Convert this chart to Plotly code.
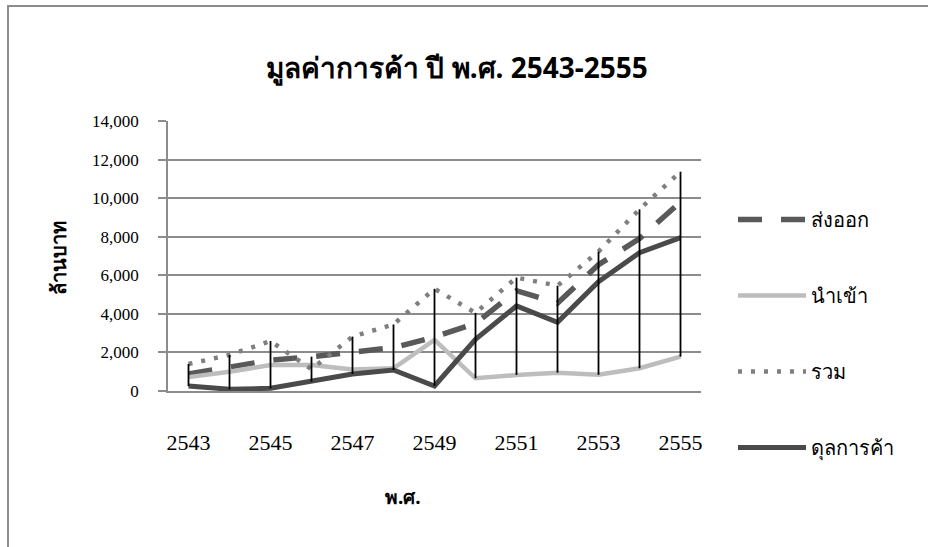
import plotly.graph_objects as go

years = [2543, 2544, 2545, 2546, 2547, 2548, 2549, 2550, 2551, 2552, 2553, 2554, 2555]
export_vals = [880, 1230, 1600, 1780, 1990, 2250, 2800, 3500, 5200, 4550, 6550, 7900, 9800]
import_vals = [720, 1000, 1350, 1350, 1120, 1180, 2650, 660, 830, 950, 840, 1180, 1780]
total_vals = [1400, 1870, 2590, 1130, 2820, 3450, 5300, 4050, 5880, 5460, 7230, 9420, 11370]
balance_vals = [260, 90, 140, 480, 880, 1090, 260, 2680, 4410, 3560, 5670, 7170, 7950]

names = ["ส่งออก", "นำเข้า", "รวม", "ดุลการค้า"]
x_ticks = [2543, 2545, 2547, 2549, 2551, 2553, 2555]
y_ticks = [0, 2000, 4000, 6000, 8000, 10000, 12000, 14000]

title_text = "มูลค่าการค้า ปี พ.ศ. 2543-2555"
y_title = "ล้านบาท"
x_title = "พ.ศ."

thai_font = "Noto Sans, DejaVu Sans, sans-serif"
serif_font = "Liberation Serif, Times New Roman, serif"

fig = go.Figure()
series = [
    (export_vals, dict(color="#595959", width=5.5, dash="24px,19px")),
    (import_vals, dict(color="#bdbdbd", width=4.5)),
    (total_vals, dict(color="#7f7f7f", width=4.5, dash="4px,9px")),
    (balance_vals, dict(color="#4a4a4a", width=5)),
]
for i, (vals, ln) in enumerate(series):
    fig.add_trace(go.Scatter(x=years, y=vals, mode="lines", name=names[i],
                             line=ln, legendgroup=str(i)))

# high-low lines
hx, hy = [], []
for j, yr in enumerate(years):
    col = [export_vals[j], import_vals[j], total_vals[j], balance_vals[j]]
    hx += [yr, yr, None]
    hy += [min(col), max(col), None]
fig.add_trace(go.Scatter(x=hx, y=hy, mode="lines", showlegend=False,
                         line=dict(color="black", width=1.8), hoverinfo="skip"))

L, R, T, B = 168, 701, 121, 391
W, H = 928, 547
pw, ph = R - L, B - T

def px(xp):
    return (xp - L) / pw

def py(yp):
    return (B - yp) / ph

fig.update_layout(
    width=W, height=H,
    margin=dict(l=L, r=W - R, t=T, b=H - B, autoexpand=False),
    paper_bgcolor="white", plot_bgcolor="white",
    title=dict(text="<b>" + title_text + "</b>", x=457 / W, xref="container",
               y=1 - 68 / H, yref="container", xanchor="center", yanchor="middle",
               font=dict(family=thai_font, size=28, color="black")),
    xaxis=dict(range=[2542.5, 2555.5], tickvals=x_ticks, ticktext=[str(v) for v in x_ticks],
               showgrid=False, zeroline=False, showline=True, linecolor="#8c8c8c", linewidth=1.5,
               ticks="", ticklabelstandoff=31,
               tickfont=dict(family=serif_font, size=22, color="black")),
    yaxis=dict(range=[0, 14000], tickvals=y_ticks, tickformat=",d",
               showgrid=True, gridcolor="#8c8c8c", gridwidth=1.5, zeroline=False,
               showline=True, linecolor="#8c8c8c", linewidth=1.5,
               ticks="outside", ticklen=8, tickcolor="#8c8c8c", tickwidth=1.5,
               ticklabelstandoff=16,
               tickfont=dict(family=serif_font, size=17, color="black")),
    legend=dict(x=733 / W, y=1 - 200 / H, xref="container", yref="container",
                xanchor="left", yanchor="top",
                font=dict(family=thai_font, size=20, color="black"),
                tracegroupgap=47, itemwidth=68, bgcolor="rgba(0,0,0,0)"),
    showlegend=True,
)

fig.add_annotation(text="<b>" + y_title + "</b>", xref="paper", yref="paper",
                   x=px(58), y=py(258), textangle=-90, showarrow=False,
                   xanchor="center", yanchor="middle",
                   font=dict(family=thai_font, size=20, color="black"))
fig.add_annotation(text="<b>" + x_title + "</b>", xref="paper", yref="paper",
                   x=px(403), y=py(497), showarrow=False,
                   xanchor="center", yanchor="middle",
                   font=dict(family=thai_font, size=19, color="black"))

# outer chart border (left and top visible)
fig.add_shape(type="rect", xref="paper", yref="paper",
              x0=px(8), y0=py(H + 20), x1=px(W + 20), y1=py(6),
              line=dict(color="#8c8c8c", width=2), fillcolor="rgba(0,0,0,0)", layer="below")

fig.write_html("out.html", config={"displayModeBar": False},
               post_script="document.body.style.margin='0';document.body.style.overflow='hidden';")
